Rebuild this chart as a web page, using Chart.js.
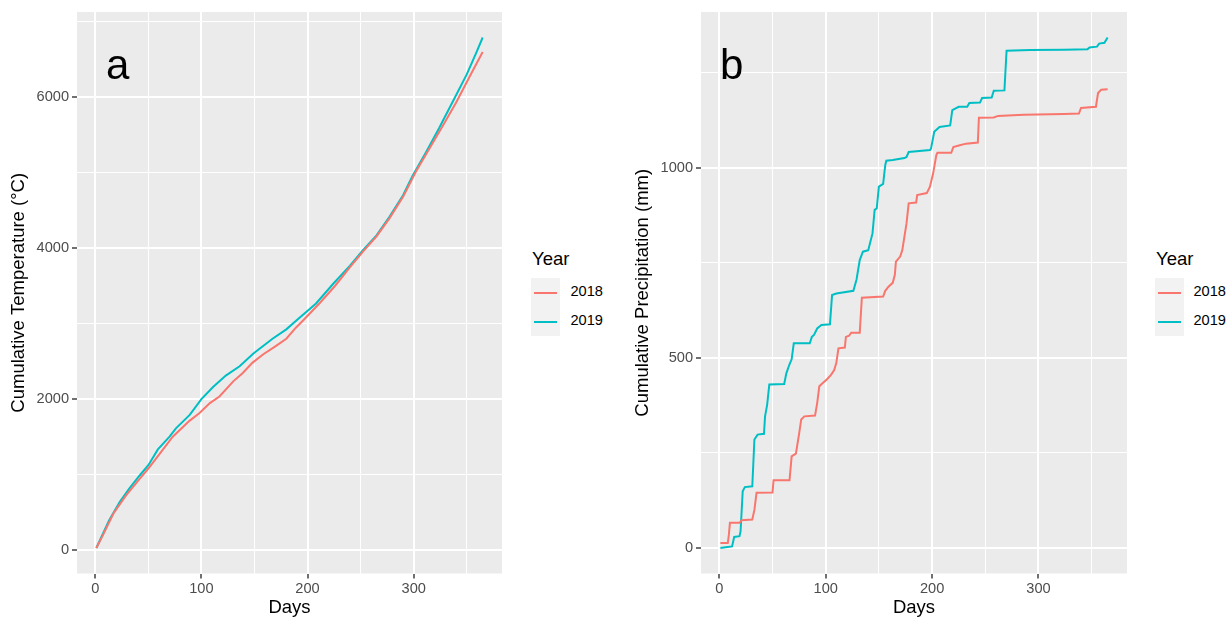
<!DOCTYPE html>
<html>
<head>
<meta charset="utf-8">
<script src="https://cdn.jsdelivr.net/npm/chart.js@4.4.1/dist/chart.umd.min.js"></script>
<style>
  html, body { margin: 0; padding: 0; background: #ffffff; overflow: hidden; }
  body { width: 1231px; height: 619px; position: relative; font-family: "Liberation Sans", Arial, sans-serif; }
  .wrap { position: absolute; top: 0; height: 619px; }
  canvas { display: block; }
  .lg-title { position: absolute; font-size: 18.5px; line-height: 18.5px; color: #000; white-space: nowrap; }
  .lg-box { position: absolute; width: 29px; height: 58px; background: #F2F2F2; }
  .lg-line { position: absolute; height: 2px; }
  .lg-text { position: absolute; font-size: 14.6px; line-height: 14.6px; color: #000; white-space: nowrap; }
</style>
</head>
<body>
<div class="wrap" style="left:0px;width:520px"><canvas id="chartA" width="520" height="619"></canvas></div>
<div class="wrap" style="left:625px;width:520px"><canvas id="chartB" width="520" height="619"></canvas></div>
<div id="legendA"></div>
<div id="legendB"></div>
<script>
// ---------------- data ----------------
const years = ["2018", "2019"];
const yearColors = ["#F8766D", "#00BFC4"];

// Panel a: cumulative temperature (°C)
const temp2018Days   = [1, 7, 17, 29, 42, 50, 61, 73, 89, 98, 108, 117, 130, 139, 148, 158, 170, 180, 189, 196, 212, 226, 240, 252, 265, 277, 290, 302, 315, 328, 340, 353, 365];
const temp2018Values = [27, 191, 480, 724, 947, 1080, 1280, 1502, 1715, 1813, 1947, 2035, 2235, 2346, 2480, 2591, 2702, 2800, 2946, 3045, 3280, 3502, 3747, 3950, 4156, 4391, 4680, 5013, 5324, 5636, 5930, 6280, 6600];
const temp2019Days   = [1, 13, 23, 32, 42, 50, 59, 70, 76, 89, 100, 111, 123, 136, 149, 167, 180, 190, 208, 224, 240, 252, 265, 277, 290, 299, 312, 324, 337, 350, 359, 365];
const temp2019Values = [27, 391, 636, 813, 991, 1124, 1333, 1502, 1613, 1791, 2000, 2160, 2311, 2435, 2604, 2800, 2924, 3049, 3267, 3525, 3769, 3969, 4169, 4413, 4702, 4960, 5280, 5591, 5947, 6302, 6591, 6791];

// Panel b: cumulative precipitation (mm)
const prec2018Days   = [1, 8, 9, 10, 19, 21, 31, 33, 35, 50, 51, 66, 68, 72, 75, 77, 80, 90, 92, 94, 97, 101, 105, 108, 110, 112, 118, 119, 122, 124, 132, 134, 154, 156, 159, 163, 165, 166, 170, 172, 176, 178, 185, 186, 195, 198, 201, 204, 205, 218, 220, 226, 232, 243, 244, 258, 262, 286, 324, 338, 340, 354, 356, 359, 365];
const prec2018Values = [13, 13, 35, 66, 66, 73, 75, 100, 145, 146, 178, 178, 241, 248, 300, 338, 346, 348, 381, 425, 433, 443, 455, 468, 487, 525, 527, 555, 558, 566, 566, 658, 661, 676, 687, 697, 718, 753, 766, 783, 854, 906, 908, 928, 933, 950, 985, 1033, 1039, 1039, 1054, 1059, 1063, 1066, 1131, 1132, 1136, 1139, 1141, 1142, 1157, 1160, 1196, 1205, 1206];
const prec2019Days   = [1, 6, 12, 14, 19, 20, 22, 24, 31, 33, 36, 42, 43, 45, 47, 61, 63, 66, 68, 70, 85, 87, 89, 92, 96, 104, 106, 110, 126, 129, 132, 135, 140, 142, 144, 146, 148, 150, 154, 156, 157, 163, 174, 176, 178, 198, 199, 202, 207, 217, 219, 225, 233, 235, 245, 247, 256, 258, 268, 270, 292, 324, 346, 348, 355, 357, 362, 365];
const prec2019Values = [0, 2, 4, 29, 31, 44, 149, 160, 162, 285, 298, 300, 346, 377, 430, 431, 459, 483, 496, 538, 538, 555, 560, 577, 586, 588, 665, 669, 676, 706, 757, 779, 783, 805, 827, 889, 893, 950, 957, 1007, 1018, 1020, 1025, 1028, 1041, 1046, 1050, 1094, 1107, 1111, 1151, 1160, 1160, 1170, 1171, 1183, 1184, 1202, 1203, 1307, 1309, 1310, 1311, 1316, 1318, 1326, 1328, 1342];

// ticks
const dayMajorTicks  = [0, 100, 200, 300];
const dayMinorTicks  = [50, 150, 250, 350];
const tempMajorTicks = [0, 2000, 4000, 6000];
const tempMinorTicks = [1000, 3000, 5000, 7000];
const precMajorTicks = [0, 500, 1000];
const precMinorTicks = [250, 750, 1250];

// ---------------- helpers ----------------
const FONT = '"Liberation Sans", Arial, sans-serif';

function toPoints(days, values) {
  return days.map((d, i) => ({ x: d, y: values[i] }));
}

const panelBg = {
  id: 'panelBg',
  beforeDraw(chart) {
    const { ctx, chartArea: a } = chart;
    ctx.save();
    ctx.fillStyle = '#EBEBEB';
    ctx.fillRect(a.left, a.top, a.right - a.left, a.bottom - a.top);
    ctx.restore();
  }
};

const panelLabel = {
  id: 'panelLabel',
  afterDatasetsDraw(chart, args, opts) {
    const { ctx } = chart;
    ctx.save();
    ctx.font = '42px ' + FONT;
    ctx.fillStyle = '#000';
    ctx.textBaseline = 'alphabetic';
    ctx.textAlign = 'left';
    ctx.fillText(opts.text, opts.x, opts.y);
    ctx.restore();
  }
};

function axis(majors, minors, min, max, titleText, titlePad, isX, axisSize) {
  const all = majors.concat(minors).sort((a, b) => a - b);
  const majorSet = new Set(majors);
  return {
    type: 'linear',
    min: min,
    max: max,
    afterBuildTicks: s => { s.ticks = all.map(v => ({ value: v })); },
    afterFit: s => { if (isX) { s.height = axisSize; } else { s.width = axisSize; } },
    border: { display: false },
    grid: {
      color: '#FFFFFF',
      lineWidth: c => (c.tick && majorSet.has(c.tick.value)) ? 2 : 1,
      tickColor: c => (c.tick && majorSet.has(c.tick.value)) ? '#333333' : 'rgba(0,0,0,0)',
      tickWidth: 1.4,
      tickLength: 5,
      drawTicks: true
    },
    ticks: {
      autoSkip: false,
      maxRotation: 0,
      minRotation: 0,
      padding: isX ? 2.2 : 3,
      color: '#4D4D4D',
      font: { family: FONT, size: 14.6 },
      callback: v => majorSet.has(v) ? String(v) : ''
    },
    title: {
      display: true,
      text: titleText,
      color: '#000000',
      font: { family: FONT, size: 18.5 },
      padding: titlePad
    }
  };
}

function makeChart(canvasId, d18, v18, d19, v19, yMajor, yMinor, yMin, yMax, yTitle, yTitlePad, yAxisWidth, label, labelX, labelY) {
  return new Chart(document.getElementById(canvasId), {
    type: 'line',
    data: {
      datasets: [
        { label: years[0], data: toPoints(d18, v18), borderColor: yearColors[0], backgroundColor: yearColors[0], borderWidth: 2, pointRadius: 0, tension: 0, fill: false },
        { label: years[1], data: toPoints(d19, v19), borderColor: yearColors[1], backgroundColor: yearColors[1], borderWidth: 2, pointRadius: 0, tension: 0, fill: false }
      ]
    },
    options: {
      responsive: false,
      animation: false,
      devicePixelRatio: 1,
      layout: { padding: { left: 0, right: 18, top: 12, bottom: 0 } },
      plugins: {
        legend: { display: false },
        tooltip: { enabled: false },
        panelLabel: { text: label, x: labelX, y: labelY }
      },
      scales: {
        x: axis(dayMajorTicks, dayMinorTicks, -17.2, 383.2, 'Days', { top: 0, bottom: 0.3 }, true, 45.5),
        y: axis(yMajor, yMinor, yMin, yMax, yTitle, yTitlePad, false, yAxisWidth)
      }
    },
    plugins: [panelBg, panelLabel]
  });
}

makeChart('chartA', temp2018Days, temp2018Values, temp2019Days, temp2019Values,
  tempMajorTicks, tempMinorTicks, -311, 7129, 'Cumulative Temperature (°C)', { top: 7.4, bottom: 0 }, 77, 'a', 106, 79);
makeChart('chartB', prec2018Days, prec2018Values, prec2019Days, prec2019Values,
  precMajorTicks, precMinorTicks, -67.1, 1409.1, 'Cumulative Precipitation (mm)', { top: 6.4, bottom: 0 }, 76, 'b', 95, 79);

// ---------------- legends (ggplot style, HTML text) ----------------
function buildLegend(containerId, left, textGap) {
  const c = document.getElementById(containerId);
  let html = '<div class="lg-title" style="left:' + (left + 1) + 'px;top:249.6px">Year</div>';
  html += '<div class="lg-box" style="left:' + left + 'px;top:278px"></div>';
  years.forEach((y, i) => {
    const cy = 292.5 + i * 29;
    html += '<div class="lg-line" style="left:' + (left + 3) + 'px;top:' + (cy - 1) + 'px;width:23px;background:' + yearColors[i] + '"></div>';
    html += '<div class="lg-text" style="left:' + (left + textGap) + 'px;top:' + (cy - 8.4) + 'px">' + y + '</div>';
  });
  c.innerHTML = html;
}
buildLegend('legendA', 531, 39.5);
buildLegend('legendB', 1155, 38.5);
</script>
</body>
</html>
